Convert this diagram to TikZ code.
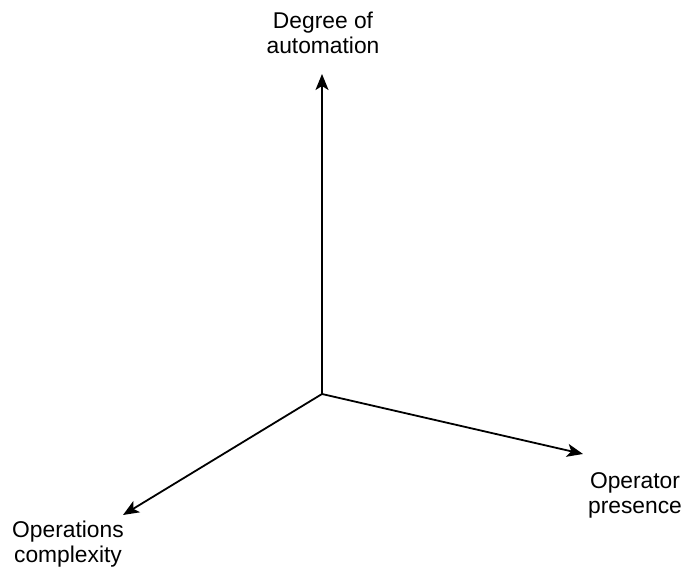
\documentclass[tikz,border=0pt]{standalone}
\usepackage{fontspec}
\setmainfont{Liberation Sans}
\usetikzlibrary{arrows.meta}
\begin{document}
\begin{tikzpicture}[x=1pt,y=-1pt,
  axis/.style={line width=1.8pt,-{Stealth[length=16pt,width=13pt,inset=4pt]}},
  axislabel/.style={align=center,font=\fontsize{22.8}{25}\selectfont,inner sep=0pt,anchor=base}]
  \useasboundingbox (0,0) rectangle (688,569);
  % axes meet at the origin
  \coordinate (o) at (322,394);
  \coordinate (up) at (322,74);
  \coordinate (right) at (583,454);
  \coordinate (left) at (123,515);
  \draw[axis] (o) -- (up);
  \draw[axis] (o) -- (right);
  \draw[axis] (o) -- (left);
  % axis names (anchored at the baseline of their last line)
  \node[axislabel] (lup) at (323,54) {Degree of\\automation};
  \node[axislabel] (lright) at (635,513) {Operator\\presence};
  \node[axislabel] (lleft) at (68,562) {Operations\\complexity};
\end{tikzpicture}
\end{document}
